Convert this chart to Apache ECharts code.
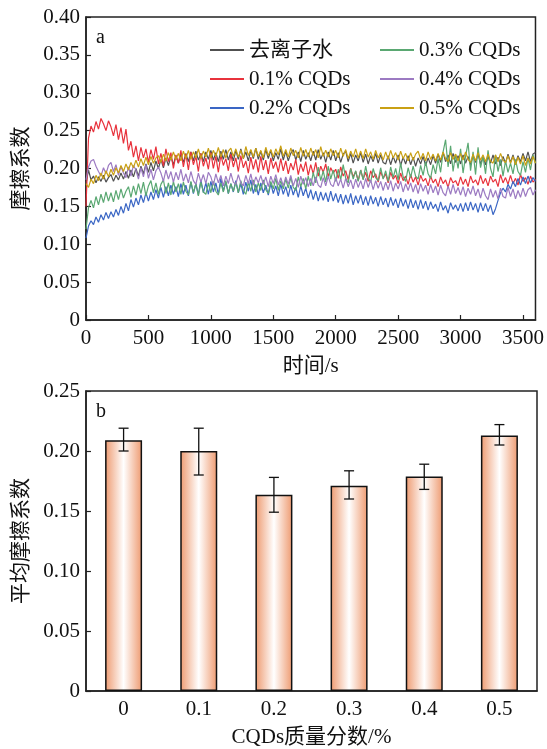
<!DOCTYPE html>
<html><head><meta charset="utf-8">
<script src="https://cdn.jsdelivr.net/npm/echarts@6/dist/echarts.min.js"></script>
<style>html,body{margin:0;padding:0;background:#fff}#c{width:547px;height:749px}</style>
</head><body><div id="c"></div>
<script>
const times = [0,20,40,60,80,100,120,140,160,180,200,220,240,260,280,300,320,340,360,380,
400,420,440,460,480,500,520,540,560,580,600,620,640,660,680,700,720,740,760,780,
800,820,840,860,880,900,920,940,960,980,1000,1020,1040,1060,1080,1100,1120,1140,1160,1180,
1200,1220,1240,1260,1280,1300,1320,1340,1360,1380,1400,1420,1440,1460,1480,1500,1520,1540,1560,1580,
1600,1620,1640,1660,1680,1700,1720,1740,1760,1780,1800,1820,1840,1860,1880,1900,1920,1940,1960,1980,
2000,2020,2040,2060,2080,2100,2120,2140,2160,2180,2200,2220,2240,2260,2280,2300,2320,2340,2360,2380,
2400,2420,2440,2460,2480,2500,2520,2540,2560,2580,2600,2620,2640,2660,2680,2700,2720,2740,2760,2780,
2800,2820,2840,2860,2880,2900,2920,2940,2960,2980,3000,3020,3040,3060,3080,3100,3120,3140,3160,3180,
3200,3220,3240,3260,3280,3300,3320,3340,3360,3380,3400,3420,3440,3460,3480,3500,3520,3540,3560,3580,
3600];

const water = [
0.180,0.198,0.185,0.190,0.181,0.189,0.183,0.191,0.182,0.188,
0.192,0.183,0.191,0.185,0.194,0.186,0.196,0.187,0.198,0.189,
0.200,0.190,0.203,0.193,0.206,0.195,0.208,0.197,0.210,0.200,
0.212,0.201,0.214,0.204,0.216,0.205,0.217,0.207,0.219,0.208,
0.220,0.209,0.222,0.210,0.223,0.211,0.220,0.209,0.222,0.212,
0.224,0.211,0.221,0.209,0.223,0.212,0.225,0.211,0.222,0.210,
0.224,0.212,0.226,0.213,0.222,0.210,0.224,0.213,0.227,0.212,
0.223,0.211,0.225,0.213,0.224,0.210,0.221,0.212,0.226,0.211,
0.223,0.210,0.220,0.225,0.211,0.222,0.209,0.224,0.212,0.221,
0.210,0.223,0.211,0.225,0.212,0.221,0.208,0.222,0.211,0.224,
0.210,0.221,0.208,0.219,0.223,0.209,0.220,0.207,0.218,0.210,
0.221,0.208,0.219,0.206,0.217,0.209,0.220,0.207,0.218,0.208,
0.206,0.217,0.205,0.216,0.207,0.218,0.204,0.215,0.206,0.217,
0.205,0.215,0.203,0.214,0.206,0.216,0.204,0.214,0.205,0.217,
0.207,0.219,0.208,0.221,0.209,0.218,0.206,0.220,0.208,0.217,
0.206,0.218,0.207,0.216,0.205,0.217,0.208,0.219,0.206,0.215,
0.205,0.216,0.207,0.218,0.206,0.215,0.204,0.216,0.207,0.219,
0.208,0.218,0.206,0.217,0.209,0.220,0.210,0.222,0.209,0.219,
0.221];

const cqd01 = [
0.150,0.240,0.256,0.248,0.262,0.252,0.266,0.259,0.250,0.263,
0.255,0.243,0.258,0.238,0.254,0.233,0.252,0.224,0.236,0.215,
0.230,0.210,0.228,0.214,0.226,0.208,0.225,0.212,0.229,0.206,
0.220,0.203,0.226,0.209,0.221,0.200,0.218,0.207,0.224,0.202,
0.219,0.198,0.222,0.205,0.216,0.196,0.220,0.203,0.214,0.199,
0.221,0.200,0.216,0.195,0.218,0.204,0.213,0.197,0.219,0.202,
0.214,0.196,0.217,0.201,0.210,0.194,0.215,0.199,0.212,0.195,
0.216,0.198,0.211,0.193,0.214,0.200,0.209,0.195,0.213,0.197,
0.210,0.193,0.207,0.198,0.212,0.192,0.206,0.196,0.209,0.191,
0.205,0.193,0.208,0.190,0.203,0.195,0.206,0.189,0.201,0.194,
0.199,0.187,0.202,0.190,0.197,0.185,0.200,0.189,0.196,0.184,
0.198,0.186,0.195,0.183,0.197,0.188,0.193,0.182,0.196,0.187,
0.193,0.181,0.195,0.186,0.191,0.180,0.194,0.184,0.190,0.179,
0.192,0.182,0.189,0.178,0.191,0.183,0.187,0.177,0.190,0.181,
0.186,0.176,0.189,0.180,0.185,0.175,0.188,0.181,0.184,0.177,
0.189,0.179,0.186,0.176,0.190,0.181,0.185,0.178,0.191,0.180,
0.187,0.177,0.190,0.182,0.186,0.176,0.192,0.181,0.188,0.179,
0.191,0.180,0.187,0.178,0.192,0.183,0.188,0.179,0.190,0.182,
0.186];

const cqd02 = [
0.108,0.124,0.131,0.126,0.136,0.129,0.139,0.132,0.142,0.134,
0.143,0.136,0.146,0.138,0.150,0.141,0.154,0.144,0.159,0.149,
0.161,0.152,0.165,0.155,0.168,0.157,0.169,0.159,0.172,0.161,
0.175,0.162,0.176,0.164,0.178,0.166,0.176,0.163,0.180,0.166,
0.178,0.164,0.182,0.167,0.180,0.165,0.185,0.168,0.181,0.166,
0.183,0.169,0.181,0.166,0.187,0.170,0.182,0.167,0.180,0.169,
0.184,0.168,0.180,0.166,0.182,0.170,0.185,0.167,0.179,0.165,
0.181,0.168,0.178,0.165,0.180,0.167,0.177,0.164,0.179,0.166,
0.176,0.163,0.178,0.165,0.175,0.162,0.177,0.164,0.174,0.161,
0.172,0.159,0.170,0.157,0.169,0.158,0.168,0.156,0.170,0.157,
0.167,0.155,0.166,0.153,0.165,0.154,0.167,0.152,0.164,0.154,
0.165,0.152,0.163,0.151,0.164,0.153,0.162,0.150,0.163,0.152,
0.161,0.149,0.162,0.151,0.160,0.148,0.161,0.150,0.159,0.147,
0.160,0.148,0.158,0.146,0.159,0.147,0.157,0.145,0.156,0.147,
0.153,0.143,0.156,0.145,0.151,0.141,0.155,0.146,0.152,0.144,
0.154,0.143,0.155,0.144,0.156,0.145,0.154,0.142,0.155,0.144,
0.154,0.143,0.152,0.139,0.147,0.158,0.168,0.174,0.169,0.179,
0.173,0.183,0.176,0.187,0.178,0.189,0.180,0.190,0.181,0.188,
0.183];

const cqd03 = [
0.120,0.148,0.158,0.148,0.163,0.152,0.166,0.155,0.169,0.157,
0.168,0.156,0.171,0.159,0.173,0.161,0.170,0.176,0.162,0.177,
0.165,0.180,0.167,0.182,0.164,0.177,0.184,0.168,0.181,0.166,
0.179,0.185,0.167,0.181,0.165,0.183,0.169,0.180,0.166,0.182,
0.170,0.165,0.183,0.168,0.180,0.164,0.182,0.169,0.166,0.181,
0.168,0.183,0.170,0.165,0.181,0.169,0.184,0.167,0.180,0.170,
0.182,0.168,0.184,0.171,0.166,0.182,0.170,0.185,0.169,0.181,
0.171,0.185,0.172,0.167,0.183,0.173,0.187,0.171,0.184,0.173,
0.186,0.174,0.188,0.175,0.171,0.189,0.176,0.187,0.173,0.190,
0.177,0.195,0.181,0.202,0.184,0.197,0.182,0.203,0.186,0.198,
0.183,0.199,0.185,0.205,0.187,0.181,0.200,0.186,0.197,0.183,
0.198,0.185,0.203,0.187,0.182,0.200,0.188,0.184,0.201,0.186,
0.197,0.183,0.202,0.188,0.200,0.185,0.207,0.189,0.183,0.201,
0.188,0.203,0.190,0.186,0.204,0.191,0.209,0.193,0.187,0.205,
0.193,0.213,0.195,0.222,0.238,0.202,0.230,0.196,0.219,0.200,
0.226,0.194,0.216,0.234,0.197,0.222,0.192,0.228,0.201,0.216,
0.193,0.224,0.200,0.189,0.218,0.196,0.212,0.190,0.210,0.195,
0.207,0.193,0.212,0.196,0.191,0.209,0.195,0.214,0.198,0.218,
0.207];

const cqd04 = [
0.185,0.202,0.210,0.212,0.203,0.196,0.190,0.201,0.193,0.204,
0.208,0.196,0.205,0.191,0.203,0.194,0.188,0.202,0.190,0.204,
0.198,0.186,0.201,0.189,0.205,0.187,0.199,0.185,0.197,0.202,
0.194,0.183,0.198,0.186,0.196,0.182,0.195,0.185,0.199,0.183,
0.193,0.181,0.196,0.184,0.179,0.194,0.182,0.192,0.180,0.195,
0.189,0.178,0.193,0.181,0.191,0.177,0.190,0.180,0.194,0.182,
0.179,0.192,0.181,0.177,0.191,0.180,0.193,0.178,0.189,0.181,
0.191,0.179,0.189,0.176,0.190,0.180,0.192,0.178,0.188,0.177,
0.189,0.179,0.191,0.177,0.187,0.175,0.190,0.179,0.188,0.176,
0.187,0.177,0.189,0.178,0.175,0.188,0.177,0.190,0.179,0.176,
0.188,0.177,0.186,0.174,0.187,0.176,0.185,0.173,0.186,0.175,
0.184,0.173,0.187,0.175,0.185,0.172,0.184,0.174,0.183,0.171,
0.182,0.172,0.184,0.170,0.181,0.173,0.183,0.169,0.180,0.171,
0.181,0.169,0.179,0.167,0.180,0.170,0.178,0.166,0.179,0.168,
0.177,0.165,0.178,0.168,0.164,0.177,0.166,0.179,0.167,0.175,
0.165,0.176,0.163,0.174,0.166,0.177,0.164,0.173,0.161,0.174,
0.164,0.159,0.173,0.162,0.171,0.160,0.174,0.163,0.161,0.175,
0.163,0.173,0.160,0.171,0.162,0.174,0.163,0.172,0.175,0.165,
0.172];

const cqd05 = [
0.180,0.175,0.186,0.180,0.191,0.184,0.194,0.186,0.197,0.189,
0.199,0.191,0.201,0.194,0.204,0.196,0.206,0.198,0.208,0.201,
0.211,0.202,0.213,0.204,0.215,0.205,0.216,0.207,0.214,0.217,
0.208,0.219,0.210,0.221,0.211,0.222,0.212,0.220,0.210,0.223,
0.213,0.224,0.212,0.222,0.214,0.226,0.213,0.223,0.215,0.227,
0.214,0.224,0.216,0.228,0.215,0.225,0.214,0.223,0.227,0.216,
0.226,0.215,0.224,0.213,0.229,0.217,0.225,0.215,0.227,0.216,
0.224,0.214,0.228,0.217,0.225,0.215,0.226,0.218,0.230,0.216,
0.225,0.215,0.227,0.217,0.224,0.214,0.228,0.216,0.225,0.215,
0.227,0.217,0.225,0.214,0.229,0.216,0.224,0.215,0.226,0.217,
0.224,0.214,0.227,0.216,0.225,0.213,0.223,0.215,0.226,0.214,
0.223,0.213,0.226,0.215,0.222,0.212,0.224,0.214,0.221,0.211,
0.222,0.212,0.224,0.214,0.221,0.211,0.223,0.213,0.220,0.210,
0.221,0.211,0.219,0.223,0.212,0.220,0.210,0.222,0.212,0.219,
0.210,0.220,0.211,0.222,0.213,0.209,0.221,0.212,0.219,0.210,
0.220,0.211,0.222,0.212,0.208,0.219,0.210,0.221,0.211,0.218,
0.209,0.219,0.210,0.207,0.218,0.209,0.220,0.211,0.208,0.217,
0.207,0.216,0.205,0.215,0.206,0.217,0.204,0.214,0.206,0.216,
0.207];

const lineNames = ['去离子水','0.1% CQDs','0.2% CQDs','0.3% CQDs','0.4% CQDs','0.5% CQDs'];
const lineData = [water, cqd01, cqd02, cqd03, cqd04, cqd05];
const lineColors = ['#505050','#e8323c','#3a66c4','#5aa872','#9c7ac2','#c9a014'];

const barCategories = ['0','0.1','0.2','0.3','0.4','0.5'];
const barMeans = [0.209, 0.200, 0.1635, 0.171, 0.1787, 0.213];
const errLow = [0.200, 0.180, 0.149, 0.160, 0.168, 0.205];
const errHigh = [0.219, 0.219, 0.178, 0.1835, 0.189, 0.222];

const FONT = "'Liberation Serif','Noto Sans CJK SC',serif";
const FS = 21;
const chart = echarts.init(document.getElementById('c'), null, {renderer:'canvas'});

const axisCommon = {
  axisLine:{show:true, lineStyle:{color:'#222', width:1.5}},
  axisTick:{show:true, inside:true, length:5, lineStyle:{color:'#222', width:1.2}},
  axisLabel:{color:'#111', fontFamily:FONT, fontSize:FS},
  splitLine:{show:false},
  nameTextStyle:{color:'#111', fontFamily:FONT, fontSize:FS}
};

const series = lineNames.map((n,i)=>({
  name:n, type:'line', xAxisIndex:0, yAxisIndex:0,
  data: times.map((t,k)=>[t, lineData[i][k]]),
  showSymbol:false, symbol:'none', lineStyle:{width:1.2, color:lineColors[i]}, itemStyle:{color:lineColors[i]},
  z: 2, animation:false
}));

series.push({
  type:'bar', xAxisIndex:1, yAxisIndex:1, data: barMeans, barWidth:37,
  itemStyle:{
    borderColor:'#111', borderWidth:1.5,
    color:{type:'linear', x:0, y:0, x2:1, y2:0, colorStops:[
      {offset:0, color:'#ee9a70'},{offset:0.5, color:'#ffffff'},{offset:1, color:'#ee9a70'}]}
  },
  animation:false
});

series.push({
  type:'custom', xAxisIndex:1, yAxisIndex:1,
  data: barCategories.map((c,i)=>[i, errLow[i], errHigh[i]]),
  renderItem:function(params, api){
    const x = api.value(0);
    const lo = api.coord([x, api.value(1)]);
    const hi = api.coord([x, api.value(2)]);
    const w = 5;
    const st = {stroke:'#111', lineWidth:1.3};
    return {type:'group', children:[
      {type:'line', shape:{x1:lo[0], y1:lo[1], x2:hi[0], y2:hi[1]}, style:st},
      {type:'line', shape:{x1:lo[0]-w, y1:lo[1], x2:lo[0]+w, y2:lo[1]}, style:st},
      {type:'line', shape:{x1:hi[0]-w, y1:hi[1], x2:hi[0]+w, y2:hi[1]}, style:st}
    ]};
  },
  z:5, animation:false
});

const legendText = {color:'#111', fontFamily:FONT, fontSize:FS, lineHeight:22};
const fmt = v => v===0 ? '0' : v.toFixed(2);

chart.setOption({
  backgroundColor:'#fff',
  animation:false,
  title:[
    {text:'a', left:91, top:23, textStyle:{fontFamily:FONT, fontSize:20, fontWeight:'normal', color:'#111'}},
    {text:'b', left:91, top:397, textStyle:{fontFamily:FONT, fontSize:20, fontWeight:'normal', color:'#111'}}
  ],
  legend:[
    {data:lineNames.slice(0,3), orient:'vertical', left:205, top:34, itemGap:7, itemWidth:34, itemHeight:2, icon:'rect', textStyle:legendText},
    {data:lineNames.slice(3), orient:'vertical', left:375, top:34, itemGap:7, itemWidth:34, itemHeight:2, icon:'rect', textStyle:legendText}
  ],
  grid:[
    {left:86, top:17, width:451, height:303, show:true, borderColor:'#222', borderWidth:1.5, containLabel:false},
    {left:86, top:391, width:451, height:301, show:true, borderColor:'#222', borderWidth:1.5, containLabel:false}
  ],
  xAxis:[
    Object.assign({}, axisCommon, {type:'value', gridIndex:0, min:0, max:3600, interval:500,
      name:'时间/s', nameLocation:'middle', nameGap:36,
      axisLabel:Object.assign({}, axisCommon.axisLabel, {margin:8, showMaxLabel:false, formatter:v=>String(v)})}),
    Object.assign({}, axisCommon, {type:'category', gridIndex:1, data:barCategories,
      name:'CQDs质量分数/%', nameLocation:'middle', nameGap:36,
      axisTick:Object.assign({}, axisCommon.axisTick, {alignWithLabel:true}),
      axisLabel:Object.assign({}, axisCommon.axisLabel, {margin:8})})
  ],
  yAxis:[
    Object.assign({}, axisCommon, {type:'value', gridIndex:0, min:0, max:0.4, interval:0.05,
      name:'摩擦系数', nameLocation:'middle', nameGap:50, nameRotate:90,
      axisLabel:Object.assign({}, axisCommon.axisLabel, {margin:6, formatter:fmt})}),
    Object.assign({}, axisCommon, {type:'value', gridIndex:1, min:0, max:0.25, interval:0.05,
      name:'平均摩擦系数', nameLocation:'middle', nameGap:50, nameRotate:90,
      axisLabel:Object.assign({}, axisCommon.axisLabel, {margin:6, formatter:fmt})})
  ],
  series: series
});
</script>
</body></html>
